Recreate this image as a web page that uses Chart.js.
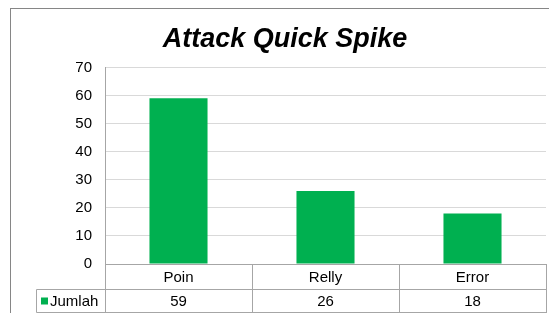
<!DOCTYPE html>
<html>
<head>
<meta charset="utf-8">
<script src="https://cdn.jsdelivr.net/npm/chart.js@4.4.1/dist/chart.umd.min.js"></script>
<style>
  html, body { margin: 0; padding: 0; background: #fff; }
  #wrap { position: relative; width: 549px; height: 313px; }
</style>
</head>
<body>
<div id="wrap"><canvas id="chart" width="549" height="313"></canvas></div>
<script>
const chartTitle = 'Attack Quick Spike';
const categories = ['Poin', 'Relly', 'Error'];
const seriesName = 'Jumlah';
const jumlah = [59, 26, 18];
const yTicks = { min: 0, max: 70, step: 10 };

const fontFamily = '"Liberation Sans", Arial, sans-serif';
const barColor = '#00b050';

// draws the outer frame and the data table under the plot
const dataTablePlugin = {
  id: 'dataTable',
  beforeDraw(chart) {
    const ctx = chart.ctx;
    ctx.save();
    ctx.strokeStyle = '#868686';
    ctx.lineWidth = 1;
    ctx.strokeRect(10.5, 8.5, 700, 500);
    ctx.restore();
  },
  afterDraw(chart) {
    const ctx = chart.ctx;
    const x = chart.scales.x;
    const area = chart.chartArea;
    const colW = (area.right - area.left) / categories.length;
    const row1Top = area.bottom;
    const row1Bottom = row1Top + 25;
    const row2Bottom = row1Bottom + 23;
    const legendLeft = 36;

    ctx.save();
    ctx.strokeStyle = '#a6a6a6';
    ctx.lineWidth = 1;
    ctx.beginPath();
    // axis line at the bottom of the plot
    ctx.moveTo(area.left, row1Top + 0.5);
    ctx.lineTo(area.right + 1, row1Top + 0.5);
    // row lines
    ctx.moveTo(legendLeft + 0.5, row1Bottom + 0.5);
    ctx.lineTo(area.right + 1, row1Bottom + 0.5);
    ctx.moveTo(legendLeft + 0.5, row2Bottom + 0.5);
    ctx.lineTo(area.right + 1, row2Bottom + 0.5);
    ctx.moveTo(legendLeft + 0.5, row1Bottom + 0.5);
    ctx.lineTo(legendLeft + 0.5, row2Bottom + 0.5);
    for (let i = 0; i <= categories.length; i++) {
      const cx = Math.round(area.left + colW * i) + 0.5;
      ctx.moveTo(cx, row1Top);
      ctx.lineTo(cx, row2Bottom + 0.5);
    }
    ctx.stroke();

    ctx.fillStyle = '#000';
    ctx.font = '15px ' + fontFamily;
    ctx.textAlign = 'center';
    ctx.textBaseline = 'middle';
    categories.forEach((cat, i) => {
      const cx = x.getPixelForValue(i);
      ctx.fillText(cat, cx, (row1Top + row1Bottom) / 2 + 1);
      ctx.fillText(String(jumlah[i]), cx, (row1Bottom + row2Bottom) / 2 + 1);
    });

    // legend key
    ctx.fillStyle = barColor;
    ctx.fillRect(legendLeft + 5, (row1Bottom + row2Bottom) / 2 - 3, 7, 7);
    ctx.fillStyle = '#000';
    ctx.textAlign = 'left';
    ctx.fillText(seriesName, legendLeft + 14, (row1Bottom + row2Bottom) / 2 + 1);
    ctx.restore();
  },
};

new Chart(document.getElementById('chart'), {
  type: 'bar',
  data: {
    labels: categories,
    datasets: [{
      label: seriesName,
      data: jumlah,
      backgroundColor: barColor,
      borderWidth: 0,
      categoryPercentage: 1,
      barPercentage: 0.395,
    }],
  },
  options: {
    responsive: false,
    animation: false,
    layout: { padding: { left: 24, right: 3, top: 0, bottom: 49 } },
    plugins: {
      legend: { display: false },
      tooltip: { enabled: false },
      title: {
        display: true,
        text: chartTitle,
        color: '#000',
        font: { family: fontFamily, size: 27, weight: 'bold', style: 'italic' },
        padding: { top: 23, bottom: 12 },
      },
    },
    scales: {
      x: { display: false },
      y: {
        min: yTicks.min,
        max: yTicks.max,
        afterFit(scale) { scale.width = 81; },
        ticks: {
          stepSize: yTicks.step,
          color: '#000',
          padding: 13,
          font: { family: fontFamily, size: 15 },
        },
        grid: { color: '#d9d9d9', drawTicks: false },
        border: { color: '#a6a6a6' },
      },
    },
  },
  plugins: [dataTablePlugin],
});
</script>
</body>
</html>
